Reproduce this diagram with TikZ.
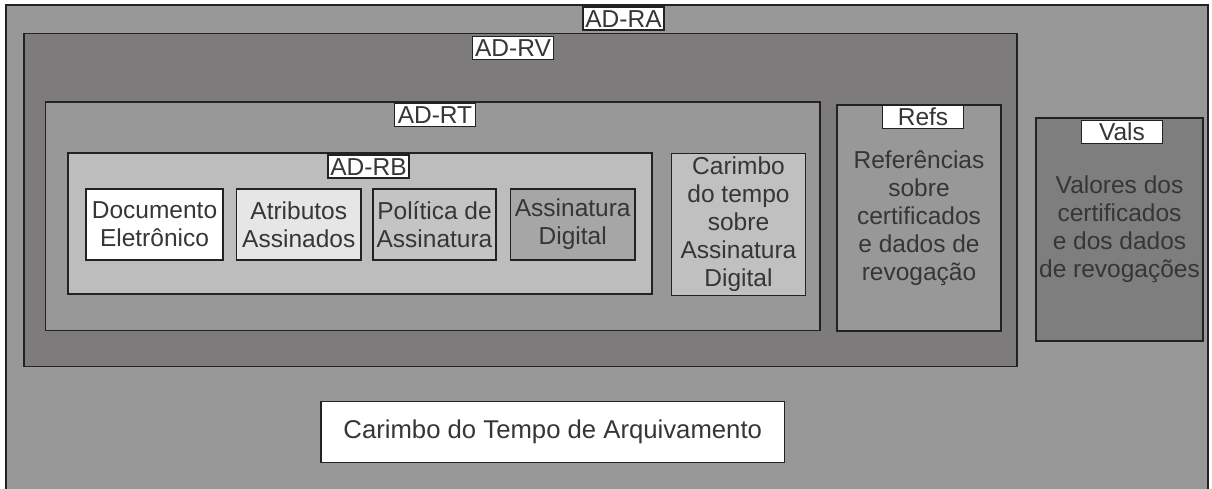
\documentclass[tikz,border=0pt]{standalone}
\usepackage{fontspec}
\setmainfont{Liberation Sans}
\definecolor{txt}{HTML}{363636}
\definecolor{edge}{HTML}{222222}
\definecolor{gRA}{HTML}{989898}
\definecolor{gRV}{HTML}{7E7B7D}
\definecolor{gRT}{HTML}{989898}
\definecolor{gRB}{HTML}{BDBDBD}
\definecolor{gAtr}{HTML}{E6E6E6}
\definecolor{gPol}{HTML}{C4C4C4}
\definecolor{gAss}{HTML}{A6A6A6}
\definecolor{gCar}{HTML}{C0C0C0}
\definecolor{gRef}{HTML}{989898}
\definecolor{gVal}{HTML}{7E7E7E}
\begin{document}
\begin{tikzpicture}[x=1pt,y=-1pt,
  box/.style={draw=edge, line width=1.6pt, inner sep=0pt, outer sep=0pt, anchor=north west,
    text=txt, align=center, font=\fontsize{24.5}{28}\selectfont},
  tag/.style={draw=edge, line width=1.6pt, fill=white, inner sep=0pt, outer sep=0pt,
    minimum width=81pt, minimum height=23pt, text height=17.5pt, text depth=0pt,
    anchor=north, text=txt, font=\fontsize{24.5}{28}\selectfont}]
\useasboundingbox (0,0) rectangle (1212,488);
\fill[white] (0,0) rectangle (1212,488);
\clip (0,0) rectangle (1212,488);
% containers
\node[box, fill=gRA, minimum width=1202pt, minimum height=500pt] (adra) at (6,5) {};
\node[tag] (tra) at (623.5,7) {AD-RA};
\node[box, fill=gRV, minimum width=993pt, minimum height=333pt] (adrv) at (24,33.5) {};
\node[tag] (trv) at (513,36.5) {AD-RV};
\node[box, fill=gRT, minimum width=774.5pt, minimum height=228.5pt] (adrt) at (45.5,102) {};
\node[tag] (trt) at (435,103.5) {AD-RT};
\node[box, fill=gRB, minimum width=584pt, minimum height=141pt] (adrb) at (68,153) {};
\node[tag] (trb) at (368.5,155) {AD-RB};
% inner boxes
\node[box, fill=white, minimum width=137pt, minimum height=71pt] (doc) at (86,189) {Documento\\Eletrônico};
\node[box, fill=gAtr, minimum width=124.5pt, minimum height=71pt] (atr) at (236.5,189) {Atributos\\Assinados};
\node[box, fill=gPol, minimum width=123pt, minimum height=71pt] (pol) at (373,189) {Política de\\Assinatura};
\node[box, fill=gAss, minimum width=124.5pt, minimum height=71pt] (ass) at (510.5,189) {Assinatura\\Digital};
\node[box, fill=gCar, minimum width=134pt, minimum height=142pt] (car) at (671.5,153.5) {Carimbo\\do tempo\\sobre\\Assinatura\\Digital};
\node[box, fill=gRef, minimum width=164pt, minimum height=226pt] (refs) at (837,105) {Referências\\sobre\\certificados\\e dados de\\revogação};
\node[tag] (trefs) at (923,105.5) {Refs};
\node[box, fill=gVal, minimum width=167pt, minimum height=223pt] (vals) at (1036,118) {Valores dos\\certificados\\e dos dados\\de revogações};
\node[tag] (tvals) at (1122,120.5) {Vals};
\node[box, fill=white, minimum width=463.5pt, minimum height=61pt, font=\fontsize{25.7}{30}\selectfont] (arq) at (321,401.5) {Carimbo do Tempo de Arquivamento};
\end{tikzpicture}
\end{document}
